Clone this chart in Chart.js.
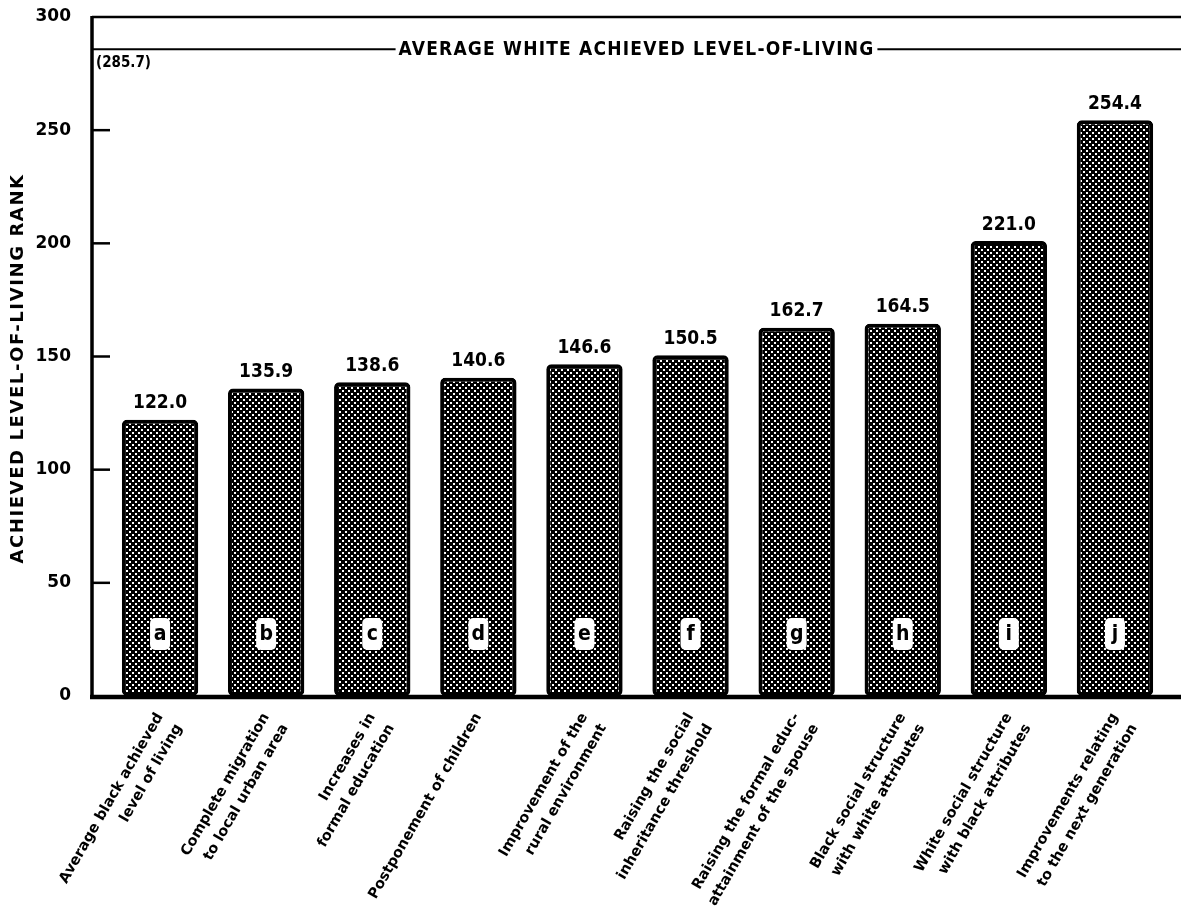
<!DOCTYPE html>
<html><head><meta charset="utf-8">
<script src="https://cdn.jsdelivr.net/npm/chart.js@4.4.0/dist/chart.umd.min.js"></script>
<style>html,body{margin:0;padding:0;background:#fff;} canvas{display:block;}</style>
</head><body>
<canvas id="c" width="1181" height="912"></canvas>
<script>
// ---- data ----
const categories = [
  ["Average black achieved", "level of living"],
  ["Complete migration", "to local urban area"],
  ["Increases in", "formal education"],
  ["Postponement of children"],
  ["Improvement of the", "rural environment"],
  ["Raising the social", "inheritance threshold"],
  ["Raising the formal educ-", "attainment of the spouse"],
  ["Black social structure", "with white attributes"],
  ["White social structure", "with black attributes"],
  ["Improvements relating", "to the next generation"]
];
const barHeights = [122.0, 135.9, 138.6, 140.6, 146.6, 150.5, 162.7, 164.5, 201.0, 254.4];
const valueLabels = ["122.0", "135.9", "138.6", "140.6", "146.6", "150.5", "162.7", "164.5", "221.0", "254.4"];
const barLetters = ["a", "b", "c", "d", "e", "f", "g", "h", "i", "j"];
const yTicks = [0, 50, 100, 150, 200, 250, 300];
const whiteAverage = 285.7;
const whiteAverageText = "(285.7)";
const whiteAverageLabel = "AVERAGE WHITE ACHIEVED LEVEL-OF-LIVING";
const axisTitle = "ACHIEVED LEVEL-OF-LIVING RANK";

// ---- styles ----
const FC = '"DejaVu Sans Condensed","DejaVu Sans",sans-serif';
const FB = '"DejaVu Sans",sans-serif';

function makePattern() {
  const t = document.createElement('canvas');
  t.width = 6; t.height = 6;
  const g = t.getContext('2d');
  g.fillStyle = '#000'; g.fillRect(0, 0, 6, 6);
  g.fillStyle = '#fff';
  g.fillRect(0, 0, 2, 2);
  g.fillRect(3, 3, 2, 2);
  return document.getElementById('c').getContext('2d').createPattern(t, 'repeat');
}

function seg(c, x1, y1, x2, y2, w) {
  c.lineWidth = w; c.beginPath(); c.moveTo(x1, y1); c.lineTo(x2, y2); c.stroke();
}

const decor = {
  id: 'decor',
  beforeDraw(chart) {
    const c = chart.ctx;
    c.save(); c.fillStyle = '#fff'; c.fillRect(0, 0, chart.width, chart.height); c.restore();
  },
  afterDatasetsDraw(chart) {
    const c = chart.ctx, ys = chart.scales.y, ca = chart.chartArea;
    const axisX = ca.left - 15;
    const right = chart.width;
    c.save();
    c.strokeStyle = '#000'; c.fillStyle = '#000'; c.lineCap = 'butt';
    const yTop = ys.getPixelForValue(300), yBot = ys.getPixelForValue(0);
    // frame
    seg(c, axisX, yTop, right, yTop, 2.5);
    seg(c, axisX, yTop - 1, axisX, yBot + 2, 3.5);
    seg(c, axisX - 2, yBot + 1, right, yBot + 1, 4.5);
    yTicks.forEach(v => {
      if (v === 0 || v === 300) return;
      const yy = ys.getPixelForValue(v);
      seg(c, axisX, yy, axisX + 18, yy, 2.5);
    });
    // axis title
    c.save();
    c.translate(18, (ca.top + ca.bottom) / 2 + 12);
    c.rotate(-Math.PI / 2);
    c.font = 'bold 18px ' + FB;
    c.letterSpacing = '1.6px';
    c.textAlign = 'center'; c.textBaseline = 'middle';
    c.fillText(axisTitle, 0, 0);
    c.restore();
    // white average line with label
    const ya = ys.getPixelForValue(whiteAverage);
    c.font = 'bold 19px ' + FC;
    c.letterSpacing = '1.2px';
    c.textBaseline = 'middle'; c.textAlign = 'center';
    const cx = (axisX + right) / 2;
    const tw = c.measureText(whiteAverageLabel).width;
    seg(c, axisX, ya, cx - tw / 2 - 3, ya, 2);
    seg(c, cx + tw / 2 + 3, ya, right, ya, 2);
    c.fillText(whiteAverageLabel, cx, ya + 1);
    c.letterSpacing = '0px';
    c.font = 'bold 15px ' + FC;
    c.textAlign = 'left'; c.textBaseline = 'top';
    c.fillText(whiteAverageText, axisX + 4, ya + 6);
    // value labels and letters
    const meta = chart.getDatasetMeta(0);
    meta.data.forEach((bar, i) => {
      c.font = 'bold 19px ' + FC;
      c.textAlign = 'center'; c.textBaseline = 'bottom';
      c.fillStyle = '#000';
      c.fillText(valueLabels[i], bar.x, bar.y - 7);
      const ly = ca.bottom - 62;
      c.fillStyle = '#fff';
      c.beginPath();
      c.roundRect(bar.x - 10, ly - 16, 20, 32, 5);
      c.fill();
      c.fillStyle = '#000';
      c.font = 'bold 21px ' + FC;
      c.textBaseline = 'middle';
      c.fillText(barLetters[i], bar.x, ly + 1);
    });
    c.restore();
  }
};

new Chart(document.getElementById('c'), {
  type: 'bar',
  data: {
    labels: categories,
    datasets: [{
      data: barHeights,
      backgroundColor: makePattern(),
      borderColor: '#000',
      borderWidth: 4,
      borderRadius: 5,
      borderSkipped: false,
      categoryPercentage: 1,
      barPercentage: 0.72
    }]
  },
  options: {
    responsive: false,
    animation: false,
    events: [],
    layout: { padding: { top: 17, right: 13, left: 0, bottom: 0 } },
    plugins: { legend: { display: false }, tooltip: { enabled: false } },
    scales: {
      x: {
        grid: { display: false },
        border: { display: false },
        afterFit(s) { s.height = 216; s.paddingTop = 0; },
        ticks: {
          autoSkip: false,
          minRotation: 60, maxRotation: 60,
          padding: 5,
          color: '#000',
          font: { family: FB, weight: 'bold', size: 14.5, lineHeight: 1.5 }
        }
      },
      y: {
        min: 0, max: 300,
        afterFit(s) { s.width = 107; s.paddingTop = 0; s.paddingBottom = 0; },
        afterBuildTicks(s) { s.ticks = yTicks.map(v => ({ value: v })); },
        grid: { display: false },
        border: { display: false },
        ticks: {
          padding: 28,
          color: '#000',
          font: { family: FB, weight: 'bold', size: 17 },
          callback: v => String(v)
        },
        title: { display: false }
      }
    }
  },
  plugins: [decor]
});
</script>
</body></html>
